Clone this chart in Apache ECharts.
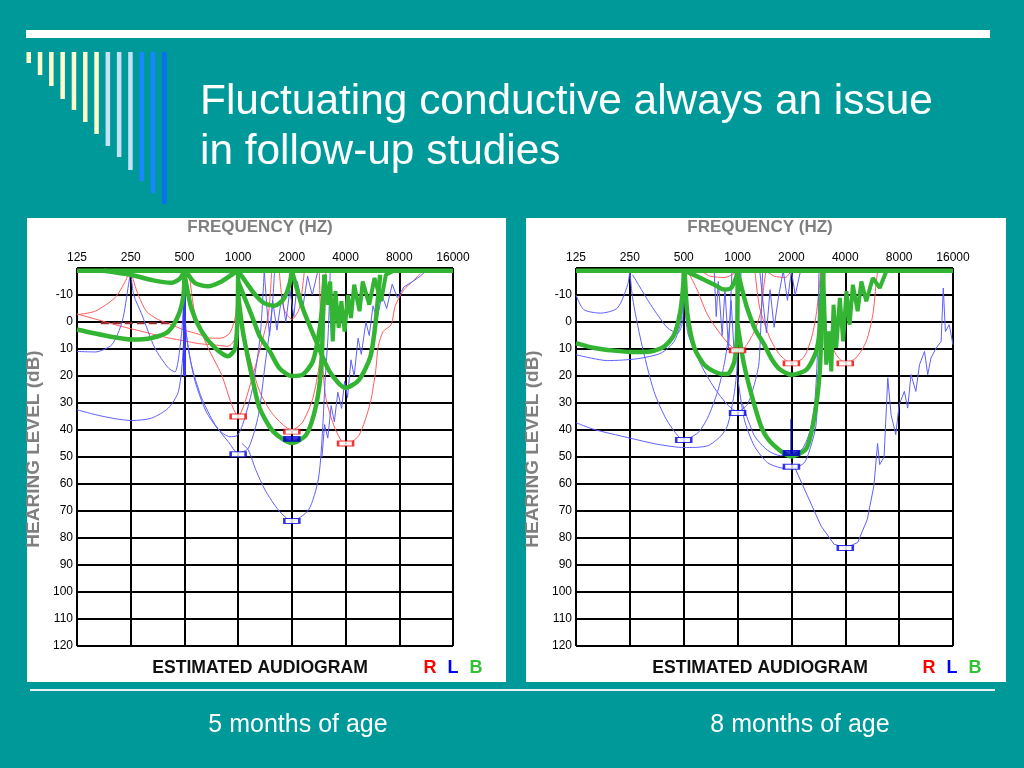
<!DOCTYPE html>
<html><head><meta charset="utf-8">
<script src="https://cdn.jsdelivr.net/npm/echarts@6/dist/echarts.min.js"></script>
<style>html,body{margin:0;padding:0;background:#009999}#c{width:1024px;height:768px}</style>
</head><body><div id="c"></div>
<script>
// ---- tick labels ----
const freqTicks = ['125','250','500','1000','2000','4000','8000','16000'];
const dbTicks = [-10,0,10,20,30,40,50,60,70,80,90,100,110,120];

// ---- LEFT PANEL: 5 months (points are [Hz, dB HL]) ----
const L5_green_top = [[125,-19],[16000,-19]];
const L5_green_1 = [[177,-19],[250,-17.5],[330,-15.5],[420,-14.5],[470,-16],[500,-19]];
const L5_green_2 = [[125,2.8],[188,5.3],[254,6.5],[327,5.9],[406,3.5],[464,-2.7],[494,-10],[500,-18]];
const L5_green_3 = [[500,-18],[547,-5],[624,3.5],[742,9.6],[877,12.7],[959,10],[990,0],[1000,-18]];
const L5_green_4 = [[505,-19],[525,-17.5],[574,-14.4],[679,-13.2],[807,-15],[920,-17.5],[1000,-19]];
const L5_green_5 = [[1000,-19],[1100,-15],[1250,-10],[1400,-7],[1600,-6],[1800,-8.5],[1940,-14],[2000,-19]];
const L5_green_6 = [[1000,-15],[1133,-6],[1230,0],[1320,5.3],[1505,10.9],[1705,17.1],[2000,20],[2300,19.5],[2620,14.6],[2850,3.5],[2990,-8.9],[3050,-17.5]];
const L5_green_7 = [[1000,-10],[1060,3],[1133,13],[1230,24],[1320,32],[1570,40.5],[2000,44.8],[2410,41.7],[2740,30.6],[2930,15.8],[2990,-3],[3050,-17.5]];
const L5_green_8 = [[2000,-19],[2300,-5.2],[2740,7.2],[3250,18.3],[4000,24.4],[4750,21.5],[5500,13],[5850,2],[6080,-9],[6250,-17.5]];
const L5_green_9 = [[3050,-17.5],[3180,-6.4],[3280,-15],[3390,7.2],[3510,-11.4],[3660,2.2],[3790,-7.7],[3950,3.5],[4120,-10],[4290,-1.5],[4470,-13.8],[4790,-4],[4990,-15],[5430,-6.4],[5810,-16.3],[6320,-7.7],[6730,-17.5],[7350,-18.8]];

const L5_red_dash = [[170,0.5],[420,0.5]];
const L5_red_1 = [[125,-2.7],[158,-4],[204,-9],[233,-15],[245,-19]];
const L5_red_2 = [[250,-19],[272,-11],[306,-4],[354,-1],[423,1],[500,3],[600,4.5],[700,6],[800,6],[900,4],[970,-3],[1000,-19]];
const L5_red_3 = [[125,-3],[160,-1],[218,1.5],[290,3.5],[406,5.9],[500,7],[600,8],[742,8.5],[877,9],[960,6],[1000,-19]];
const L5_red_4 = [[530,-19],[574,-2.7],[679,9.6],[807,19.5],[920,30.6],[1000,35],[1094,29.5],[1300,12.2],[1475,-2.6],[1540,-18.6]];
const L5_red_5 = [[1000,-18],[1020,-3],[1150,12],[1320,25.7],[1570,34.3],[2000,40],[2300,37],[2620,28.3],[2850,15.8],[3050,-2.7],[3100,-18.6]];
const L5_red_6 = [[2850,-19],[2940,9.8],[3100,28],[3490,39.4],[4000,45.4],[4750,42],[5500,30],[5900,18],[6100,9],[6500,3.5],[7200,1],[7600,-6],[8500,-12],[9500,-15],[10500,-18]];
const L5_red_7 = [[1700,-19],[1800,-5],[2000,-1],[2200,-5],[2350,-19]];

const L5_blue_1 = [[125,10.9],[158,11.1],[196,8.4],[224,-0.2],[243,-13.8],[250,-19]];
const L5_blue_2 = [[250,-19],[260,-10],[289,-2.7],[341,9.6],[406,17],[442,18.5],[483,3.5],[500,-15]];
const L5_blue_3 = [[125,32.5],[158,34.3],[204,35.8],[254,36.5],[327,35.6],[406,31.9],[463,25.7],[493,9.6],[500,-5]];
const L5_blue_4 = [[503,1],[547,15.8],[624,28.1],[742,38],[877,44.2],[1000,48.5],[1140,46.8],[1300,34.4],[1415,15.9],[1540,-2.6],[1600,-19]];
const L5_blue_5 = [[500,-5],[520,8],[574,22],[660,33],[780,40],[900,42.5],[990,42],[1060,38],[1200,25],[1330,5],[1400,-19]];
const L5_blue_6 = [[1050,45],[1140,47.4],[1260,55],[1415,62.2],[1680,69.6],[2000,73.7],[2480,69.6],[2810,58.5],[2950,43.7],[3070,22],[3200,3.6],[3280,-18.6]];
const L5_blue_7 = [[2950,50],[3050,38],[3180,43],[3320,31],[3460,37],[3620,26],[3800,32],[3950,22],[4100,28],[4290,14],[4470,20],[4700,6],[4900,12],[5200,0],[5430,5],[5700,-6],[6000,-1],[6400,-10],[6800,-5],[7300,-14],[7800,-9],[8500,-13],[9500,-15],[10500,-17],[11300,-19]];
const L5_blue_8 = [[1400,-19],[1450,-5],[1500,5],[1560,-8],[1650,3],[1760,-10],[1850,0],[1950,-12],[2050,-2],[2150,-15],[2300,-5],[2450,-17],[2600,-10],[2800,-19]];
const L5_blue_spike = [[500,-12],[500,20]];

const L5_red_marks = [[1000,35],[2000,40.6],[4000,45]];
const L5_blue_marks = [[1000,49],[2000,73.7]];
const L5_blue_fill = [[2000,43.3]];

// ---- RIGHT PANEL: 8 months ----
const R8_green_top = [[125,-19],[16000,-19]];
const R8_green_1 = [[125,7.8],[158,9.6],[204,10.6],[254,11.1],[327,10.9],[390,9],[442,4.7],[479,-4],[497,-13.8],[500,-18.8]];
const R8_green_2 = [[507,-18],[525,-2.7],[574,9.6],[651,15.8],[774,18.9],[877,19.3],[959,14.6],[995,3.5],[1000,-19]];
const R8_green_3 = [[510,-19],[547,-18],[742,-13.8],[841,-12],[920,-12.6],[979,-16.3],[1000,-19]];
const R8_green_4 = [[1000,-19],[1060,-12],[1133,-5],[1260,3],[1400,8],[1560,14],[1720,17.5],[2000,19.5],[2430,17.6],[2750,10.9],[2870,3.5],[2940,-8.9],[3010,-18.8]];
const R8_green_5 = [[1000,1],[1087,15.8],[1240,30.6],[1380,40],[1580,45.4],[2000,49.8],[2430,46.7],[2700,34.3],[2870,19.5],[2940,3.5],[3010,-18.8]];
const R8_green_6 = [[3010,-18.8],[3130,15.8],[3250,3.5],[3340,18.3],[3440,-6.4],[3560,9.6],[3730,-8.9],[3890,7.2],[4060,-11.4],[4230,1],[4410,-13.8],[4690,-4],[4920,-15],[5240,-7.7],[5700,-16.3],[6230,-12.6],[6780,-18.8]];

const R8_red_1 = [[536,-18],[599,-11.4],[679,-2.7],[807,4.7],[920,9],[1000,10.5],[1090,9.6],[1240,3.5],[1350,-4],[1405,-13.8],[1440,-19]];
const R8_red_2 = [[625,-19],[700,-17],[850,-16.5],[960,-18],[990,-19]];
const R8_red_3 = [[1250,-19],[1330,-5.2],[1516,5.9],[1720,12.1],[2000,15.2],[2330,13.3],[2590,5.9],[2750,-2.7],[2870,-13.8],[2920,-19]];
const R8_red_4 = [[1450,-19],[1600,-17],[1850,-16.5],[2000,-19]];
const R8_red_5 = [[2900,-19],[2940,-8.9],[3130,3.5],[3560,12.1],[4000,15.2],[4590,13.3],[5240,7.2],[5700,-2.7],[5940,-13.8],[6060,-18.8]];

const R8_blue_1 = [[125,-10],[138,-4.6],[172,-3.3],[213,-5.2],[243,-13.8],[250,-19]];
const R8_blue_2 = [[259,-17.5],[327,-6.4],[406,2.2],[463,4.1],[493,-0.2],[500,-13.8]];
const R8_blue_3 = [[125,12.1],[188,14.3],[276,13.6],[374,11.5],[442,7.2],[483,-0.2],[500,-13.8]];
const R8_blue_4 = [[250,-19],[259,-8.9],[289,7.2],[341,25.7],[406,36.8],[500,43.6],[599,41.1],[679,35.6],[774,25.7],[841,15.8],[896,3.5],[930,-19]];
const R8_blue_5 = [[125,37.3],[158,39.8],[243,42.8],[358,45.3],[503,46.5],[678,45.9],[807,42.2],[877,38.5],[950,28],[990,18],[1000,5]];
const R8_blue_6 = [[500,-19],[525,3.5],[624,15.8],[742,24.4],[877,30.6],[1000,33.1],[1133,30.6],[1240,23.2],[1320,14.6],[1380,-19]];
const R8_blue_7 = [[1000,20],[1090,36],[1240,45.9],[1470,52.1],[1740,54],[2000,54.3],[2360,52.1],[2570,45.9],[2740,38.5],[2850,20],[2920,0],[2960,-19]];
const R8_blue_8 = [[1060,30],[1240,42],[1470,47.5],[1740,49.5],[2000,49],[2300,47],[2550,40],[2700,30],[2800,10],[2850,-19]];
const R8_blue_9 = [[2000,52],[2110,54.6],[2460,64.4],[2930,75.6],[3460,82.3],[4030,83.6],[4690,81.7],[5310,73.1],[5780,60.7],[6060,45],[6230,52.8],[6590,50],[6910,20.7],[7210,34.3],[7660,41.7],[8000,30.6],[8560,25.7],[8930,31.9],[9320,19.5],[9920,25.7],[10400,15.8],[11090,10.9],[11560,19.5],[12050,13.3],[12900,9.6],[13730,7.2],[14120,-12.6],[14510,3.5],[15240,1],[16000,8.4]];
const R8_blue_10 = [[740,-19],[760,-2],[780,-15],[820,5],[850,-12],[890,10],[920,-8],[960,13],[1000,-5],[1050,-19]];
const R8_blue_11 = [[1330,-19],[1400,-5],[1450,4],[1520,-12],[1600,2],[1700,-10],[1800,-19],[1900,-8],[2000,-19],[2100,-10],[2250,-19]];
const R8_blue_spike = [[2000,36],[2000,50]];

const R8_red_marks = [[1000,10.5],[2000,15.3],[4000,15.3]];
const R8_blue_marks = [[500,43.7],[1000,33.7],[2000,53.6],[4000,83.7]];
const R8_blue_fill = [[2000,48.5]];

// ---- styles ----
const RED = '#ff5a5a', BLUE = '#5f5fff', GREEN = '#33b533';
const FONT = '"Liberation Sans", Arial, sans-serif';

function toOct(p){ return [Math.log2(p[0]/125), p[1]]; }
const series = [];
function line(panel, pts, color, width, extra){
  series.push(Object.assign({
    type:'line', xAxisIndex:panel, yAxisIndex:panel, data:pts.map(toOct),
    symbol:'none', smooth:0.25, silent:true, animation:false,
    lineStyle:{color:color, width:width}, z: width>3 ? 4 : 3
  }, extra||{}));
}
function marks(panel, pts, color, filled){
  series.push({type:'scatter', xAxisIndex:panel, yAxisIndex:panel, data:pts.map(toOct),
    symbol:'rect', symbolSize:[15,5], silent:true, animation:false, z:6,
    itemStyle:{color: filled ? color : '#ffffff', borderColor:color, borderWidth:1.5}});
}
const J = {smooth:false};

// left panel
[L5_red_1,L5_red_2,L5_red_3,L5_red_4,L5_red_5,L5_red_6,L5_red_7].forEach(d=>line(0,d,RED,1));
line(0,L5_red_dash,'#a03030',2,{lineStyle:{color:'#a03030',width:2,type:'dashed'},smooth:false});
[L5_blue_1,L5_blue_2,L5_blue_3,L5_blue_4,L5_blue_5,L5_blue_6].forEach(d=>line(0,d,BLUE,1));
[L5_blue_7,L5_blue_8].forEach(d=>line(0,d,BLUE,1,J));
line(0,L5_blue_spike,'#3a3aff',3,J);
[L5_green_top,L5_green_1,L5_green_2,L5_green_3,L5_green_4,L5_green_5,L5_green_6,L5_green_7,L5_green_8].forEach(d=>line(0,d,GREEN,4.5));
line(0,L5_green_9,GREEN,4,J);
marks(0,L5_red_marks,'#ee0000',false);
marks(0,L5_blue_marks,'#0000dd',false);
marks(0,L5_blue_fill,'#0000cc',true);

// right panel
[R8_red_1,R8_red_2,R8_red_3,R8_red_4,R8_red_5].forEach(d=>line(1,d,RED,1));
[R8_blue_1,R8_blue_2,R8_blue_3,R8_blue_4,R8_blue_5,R8_blue_6,R8_blue_7,R8_blue_8].forEach(d=>line(1,d,BLUE,1));
[R8_blue_9,R8_blue_10,R8_blue_11].forEach(d=>line(1,d,BLUE,1,J));
line(1,R8_blue_spike,'#000088',2,J);
[R8_green_top,R8_green_1,R8_green_2,R8_green_3,R8_green_4,R8_green_5].forEach(d=>line(1,d,GREEN,4.5));
line(1,R8_green_6,GREEN,4,J);
marks(1,R8_red_marks,'#ee0000',false);
marks(1,R8_blue_marks,'#0000dd',false);
marks(1,R8_blue_fill,'#0000cc',true);

function xAx(i){ return {type:'value', gridIndex:i, min:0, max:7, interval:1, position:'top',
  axisLine:{show:false}, axisTick:{show:false},
  axisLabel:{formatter:v=>freqTicks[Math.round(v)]||'', color:'#000', fontSize:12, margin:4, fontFamily:FONT},
  splitLine:{show:true, lineStyle:{color:'#000', width:2}}}; }
function yAx(i){ return {type:'value', gridIndex:i, inverse:true, min:-20, max:120, interval:10,
  axisLine:{show:false}, axisTick:{show:false},
  axisLabel:{formatter:v=>dbTicks.indexOf(v)>=0?String(v):'', color:'#000', fontSize:12, margin:4, fontFamily:FONT},
  splitLine:{show:true, lineStyle:{color:'#000', width:2}}}; }

// decorative slide elements
const graphics = [];
graphics.push({type:'rect', shape:{x:26,y:30,width:964,height:8}, style:{fill:'#ffffff'}, z:-5});
const barCols = ['#ffffcc','#ffffcc','#ffffcc','#ffffcc','#ffffcc','#ffffcc','#ffffcc','#c4e4f6','#c4e4f6','#c4e4f6','#1a86ff','#1a86ff','#0a70f0'];
const barBottoms = [63,75,86,99,110,122,134,146,157,170,181,193,204];
barCols.forEach((c,i)=>graphics.push({type:'rect', shape:{x:26.5+11.3*i, y:52, width:4.5, height:barBottoms[i]-52}, style:{fill:c}, z:-5}));
graphics.push({type:'text', x:200, y:102, style:{text:'Fluctuating conductive always an issue', fill:'#ffffff', font:'42.4px '+FONT, verticalAlign:'middle'}});
graphics.push({type:'text', x:200, y:152, style:{text:'in follow-up studies', fill:'#ffffff', font:'42.4px '+FONT, verticalAlign:'middle'}});
graphics.push({type:'rect', shape:{x:30,y:689,width:965,height:2}, style:{fill:'#e8f4f4'}, z:-5});
graphics.push({type:'text', x:298, y:725, style:{text:'5 months of age', fill:'#ffffff', font:'25px '+FONT, align:'center', verticalAlign:'middle'}});
graphics.push({type:'text', x:800, y:725, style:{text:'8 months of age', fill:'#ffffff', font:'25px '+FONT, align:'center', verticalAlign:'middle'}});
[{bx:27, w:479, gx:77, cx:260, rx:430}, {bx:526, w:480, gx:576, cx:760, rx:929}].forEach(p=>{
  graphics.push({type:'rect', shape:{x:p.bx, y:218, width:p.w, height:464}, style:{fill:'#ffffff'}, z:-10});
  graphics.push({type:'text', x:p.cx, y:227, style:{text:'FREQUENCY (HZ)', fill:'#7f7f7f', font:'bold 17px '+FONT, align:'center', verticalAlign:'middle'}});
  graphics.push({type:'text', x:p.bx+7, y:449, rotation:Math.PI/2, style:{text:'HEARING LEVEL (dB)', fill:'#7f7f7f', font:'bold 19px '+FONT, align:'center', verticalAlign:'middle'}});
  graphics.push({type:'text', x:p.cx, y:668, style:{text:'ESTIMATED AUDIOGRAM', fill:'#111111', font:'bold 17.6px '+FONT, align:'center', verticalAlign:'middle'}});
  graphics.push({type:'text', x:p.rx, y:668, style:{text:'R', fill:'#ff0000', font:'bold 18px '+FONT, align:'center', verticalAlign:'middle'}});
  graphics.push({type:'text', x:p.rx+23, y:668, style:{text:'L', fill:'#0000ff', font:'bold 18px '+FONT, align:'center', verticalAlign:'middle'}});
  graphics.push({type:'text', x:p.rx+46, y:668, style:{text:'B', fill:'#33c033', font:'bold 18px '+FONT, align:'center', verticalAlign:'middle'}});
});

const chart = echarts.init(document.getElementById('c'), null, {renderer:'canvas'});
chart.setOption({
  backgroundColor:'#009999',
  animation:false,
  grid:[{left:77, top:268, width:376, height:378}, {left:576, top:268, width:377, height:378}],
  xAxis:[xAx(0), xAx(1)],
  yAxis:[yAx(0), yAx(1)],
  graphic:{elements:graphics},
  series:series
});
</script>
</body></html>
